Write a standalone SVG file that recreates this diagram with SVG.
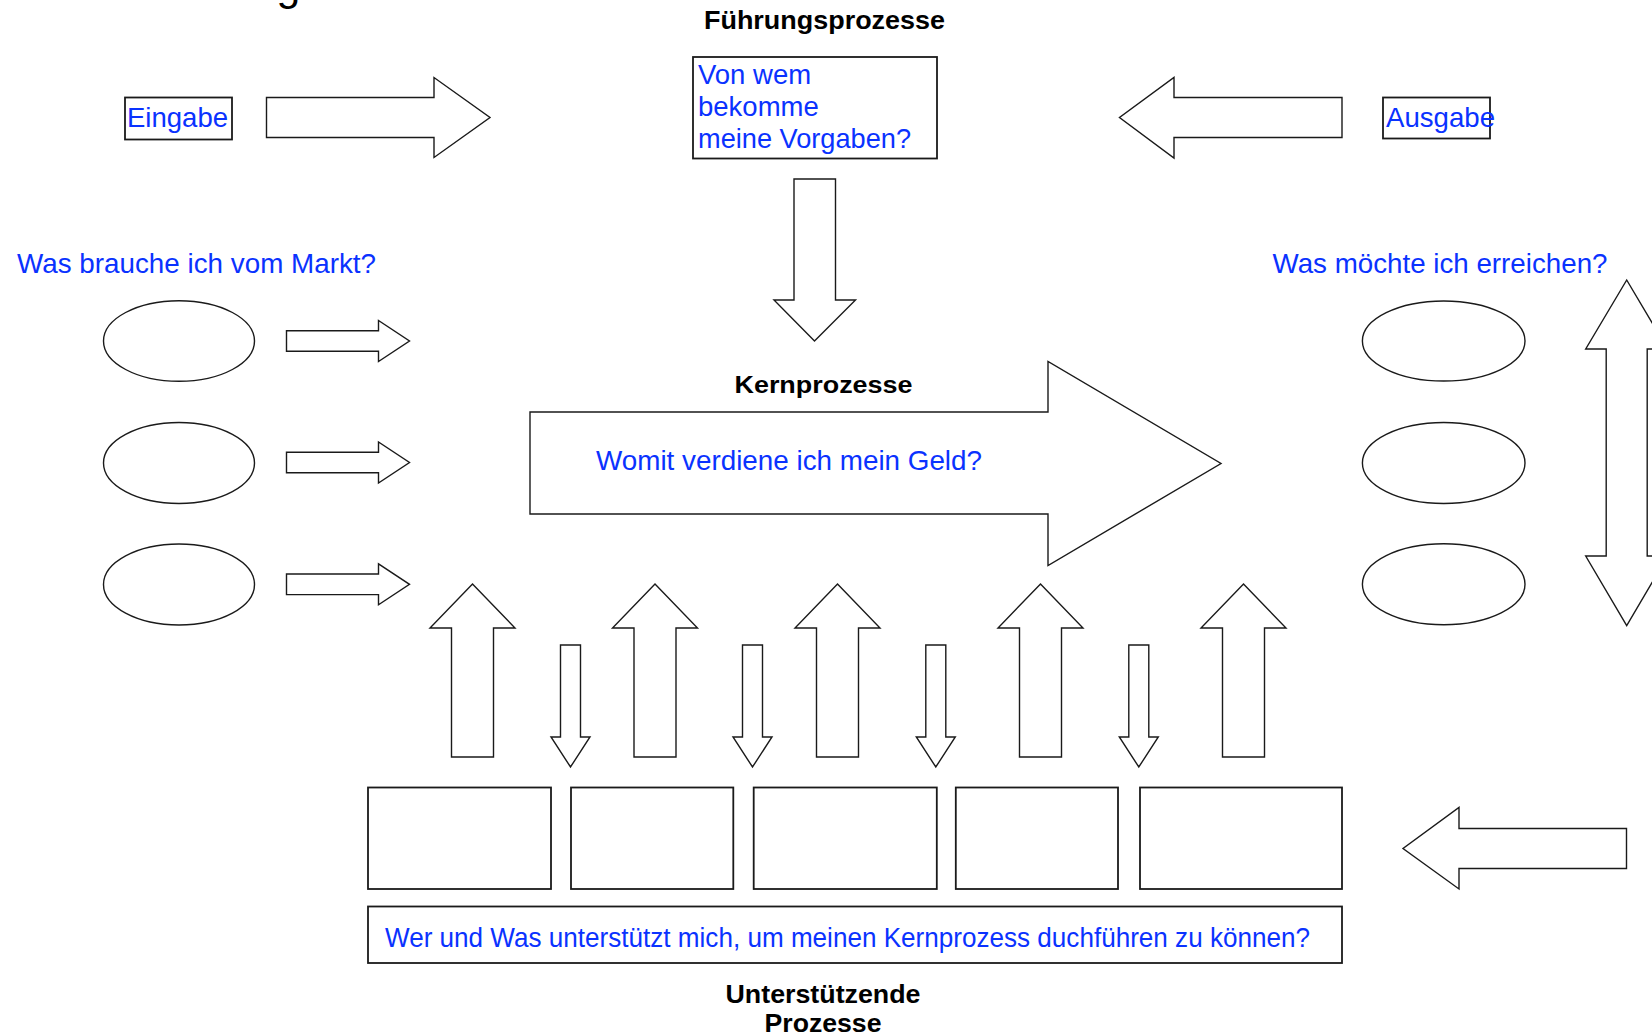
<svg xmlns="http://www.w3.org/2000/svg" width="1652" height="1035" viewBox="0 0 1652 1035">
<style>
.s{fill:#fff;stroke:#1a1a1a;stroke-width:1.4}
.b{fill:#fff;stroke:#1a1a1a;stroke-width:1.8}
.t{font-family:"Liberation Sans",Arial,sans-serif;fill:#0a32ff;font-size:27.5px}
.h{font-family:"Liberation Sans",Arial,sans-serif;fill:#000;font-weight:bold;text-anchor:middle}
</style>
<rect width="1652" height="1035" fill="#fff"/>
<text x="84" y="0" font-family="Liberation Sans, Arial, sans-serif" font-size="43" fill="#000" textLength="480" lengthAdjust="spacingAndGlyphs">Darstellung der Prozesse</text>

<g id="connectors">
  <polygon class="s" points="266.5,97.5 434,97.5 434,77.5 490,117.5 434,157.5 434,137.5 266.5,137.5"/>
  <polygon class="s" points="1342,97.5 1174,97.5 1174,77.5 1119.5,117.5 1174,158 1174,137.5 1342,137.5"/>
  <polygon class="s" points="794,179 835.5,179 835.5,300 855.5,300 814.5,341 774,300 794,300"/>
  <polygon class="s" points="286.5,330.7 378.5,330.7 378.5,320.5 409.5,341 378.5,361.5 378.5,351.3 286.5,351.3"/>
  <polygon class="s" points="286.5,452.2 378.5,452.2 378.5,442 409.5,462.5 378.5,483 378.5,472.8 286.5,472.8"/>
  <polygon class="s" points="286.5,574 378.5,574 378.5,563.8 409.5,584.3 378.5,604.8 378.5,594.6 286.5,594.6"/>
  <polygon class="s" points="1626.7,280 1667.7,349 1647.2,349 1647.2,556 1667.7,556 1626.7,625.5 1585.7,556 1606.2,556 1606.2,349 1585.7,349"/>
  <polygon class="s" points="1626.5,828.5 1459,828.5 1459,807.5 1403,848.5 1459,889 1459,868.5 1626.5,868.5"/>
  <g id="up-arrows">
    <polygon class="s" points="472.5,584 515,628 493.5,628 493.5,757 451.5,757 451.5,628 430,628"/>
    <polygon class="s" points="655,584 697.5,628 676,628 676,757 634,757 634,628 612.5,628"/>
    <polygon class="s" points="837.5,584 880,628 858.5,628 858.5,757 816.5,757 816.5,628 795,628"/>
    <polygon class="s" points="1040.5,584 1083,628 1061.5,628 1061.5,757 1019.5,757 1019.5,628 998,628"/>
    <polygon class="s" points="1243.5,584 1286,628 1264.5,628 1264.5,757 1222.5,757 1222.5,628 1201,628"/>
  </g>
  <g id="down-arrows">
    <polygon class="s" points="560.5,645 580.5,645 580.5,737 590,737 570.5,767 551,737 560.5,737"/>
    <polygon class="s" points="742.5,645 762.5,645 762.5,737 772,737 752.5,767 733,737 742.5,737"/>
    <polygon class="s" points="925.8,645 945.8,645 945.8,737 955.3,737 935.8,767 916.3,737 925.8,737"/>
    <polygon class="s" points="1128.8,645 1148.8,645 1148.8,737 1158.3,737 1138.8,767 1119.3,737 1128.8,737"/>
  </g>
</g>

<g id="eingabe">
  <rect class="b" x="125" y="97.5" width="107" height="42"/>
  <text class="t" x="127" y="127" font-size="27" textLength="101" lengthAdjust="spacingAndGlyphs">Eingabe</text>
</g>
<g id="ausgabe">
  <rect class="b" x="1383" y="97.5" width="107" height="41"/>
  <text class="t" x="1386" y="127" font-size="27" textLength="109" lengthAdjust="spacingAndGlyphs">Ausgabe</text>
</g>
<g id="fuehrungsprozesse">
  <text class="h" x="824.5" y="28.5" font-size="25.4" textLength="241" lengthAdjust="spacingAndGlyphs">Führungsprozesse</text>
  <rect class="b" x="693" y="57" width="244" height="101.5"/>
  <text class="t" x="698" y="84" font-size="27">Von wem</text>
  <text class="t" x="698" y="116" font-size="27">bekomme</text>
  <text class="t" x="698" y="148" font-size="27" textLength="213" lengthAdjust="spacingAndGlyphs">meine Vorgaben?</text>
</g>
<g id="markt">
  <text class="t" x="17" y="273" textLength="359" lengthAdjust="spacingAndGlyphs">Was brauche ich vom Markt?</text>
  <ellipse class="s" cx="179" cy="341" rx="75.5" ry="40.3"/>
  <ellipse class="s" cx="179" cy="463" rx="75.5" ry="40.5"/>
  <ellipse class="s" cx="179" cy="584.5" rx="75.5" ry="40.5"/>
</g>
<g id="ziele">
  <text class="t" x="1272.5" y="273" textLength="335" lengthAdjust="spacingAndGlyphs">Was möchte ich erreichen?</text>
  <ellipse class="s" cx="1443.7" cy="341" rx="81.3" ry="40"/>
  <ellipse class="s" cx="1443.7" cy="463" rx="81.3" ry="40.5"/>
  <ellipse class="s" cx="1443.7" cy="584.3" rx="81.3" ry="40.5"/>
</g>
<g id="kernprozesse">
  <polygon class="s" points="530,412 1048,412 1048,361.5 1221,463.5 1048,565.5 1048,514 530,514"/>
  <text class="h" x="823.5" y="393" font-size="24.8" textLength="178" lengthAdjust="spacingAndGlyphs">Kernprozesse</text>
  <text class="t" x="596" y="470" textLength="386" lengthAdjust="spacingAndGlyphs">Womit verdiene ich mein Geld?</text>
</g>
<g id="unterstuetzende">
  <rect class="b" x="368" y="787.5" width="183" height="101.5"/>
  <rect class="b" x="571" y="787.5" width="162.3" height="101.5"/>
  <rect class="b" x="753.7" y="787.5" width="183.1" height="101.5"/>
  <rect class="b" x="955.8" y="787.5" width="162.2" height="101.5"/>
  <rect class="b" x="1140" y="787.5" width="202" height="101.5"/>
  <rect class="b" x="368" y="906.5" width="974" height="56.5"/>
  <text class="t" x="385" y="946.5" font-size="26" textLength="925" lengthAdjust="spacingAndGlyphs">Wer und Was unterstützt mich, um meinen Kernprozess duchführen zu können?</text>
  <text class="h" x="823" y="1003" font-size="26.6" textLength="195" lengthAdjust="spacingAndGlyphs">Unterstützende</text>
  <text class="h" x="823" y="1032" font-size="26.6" textLength="117" lengthAdjust="spacingAndGlyphs">Prozesse</text>
</g>
</svg>
